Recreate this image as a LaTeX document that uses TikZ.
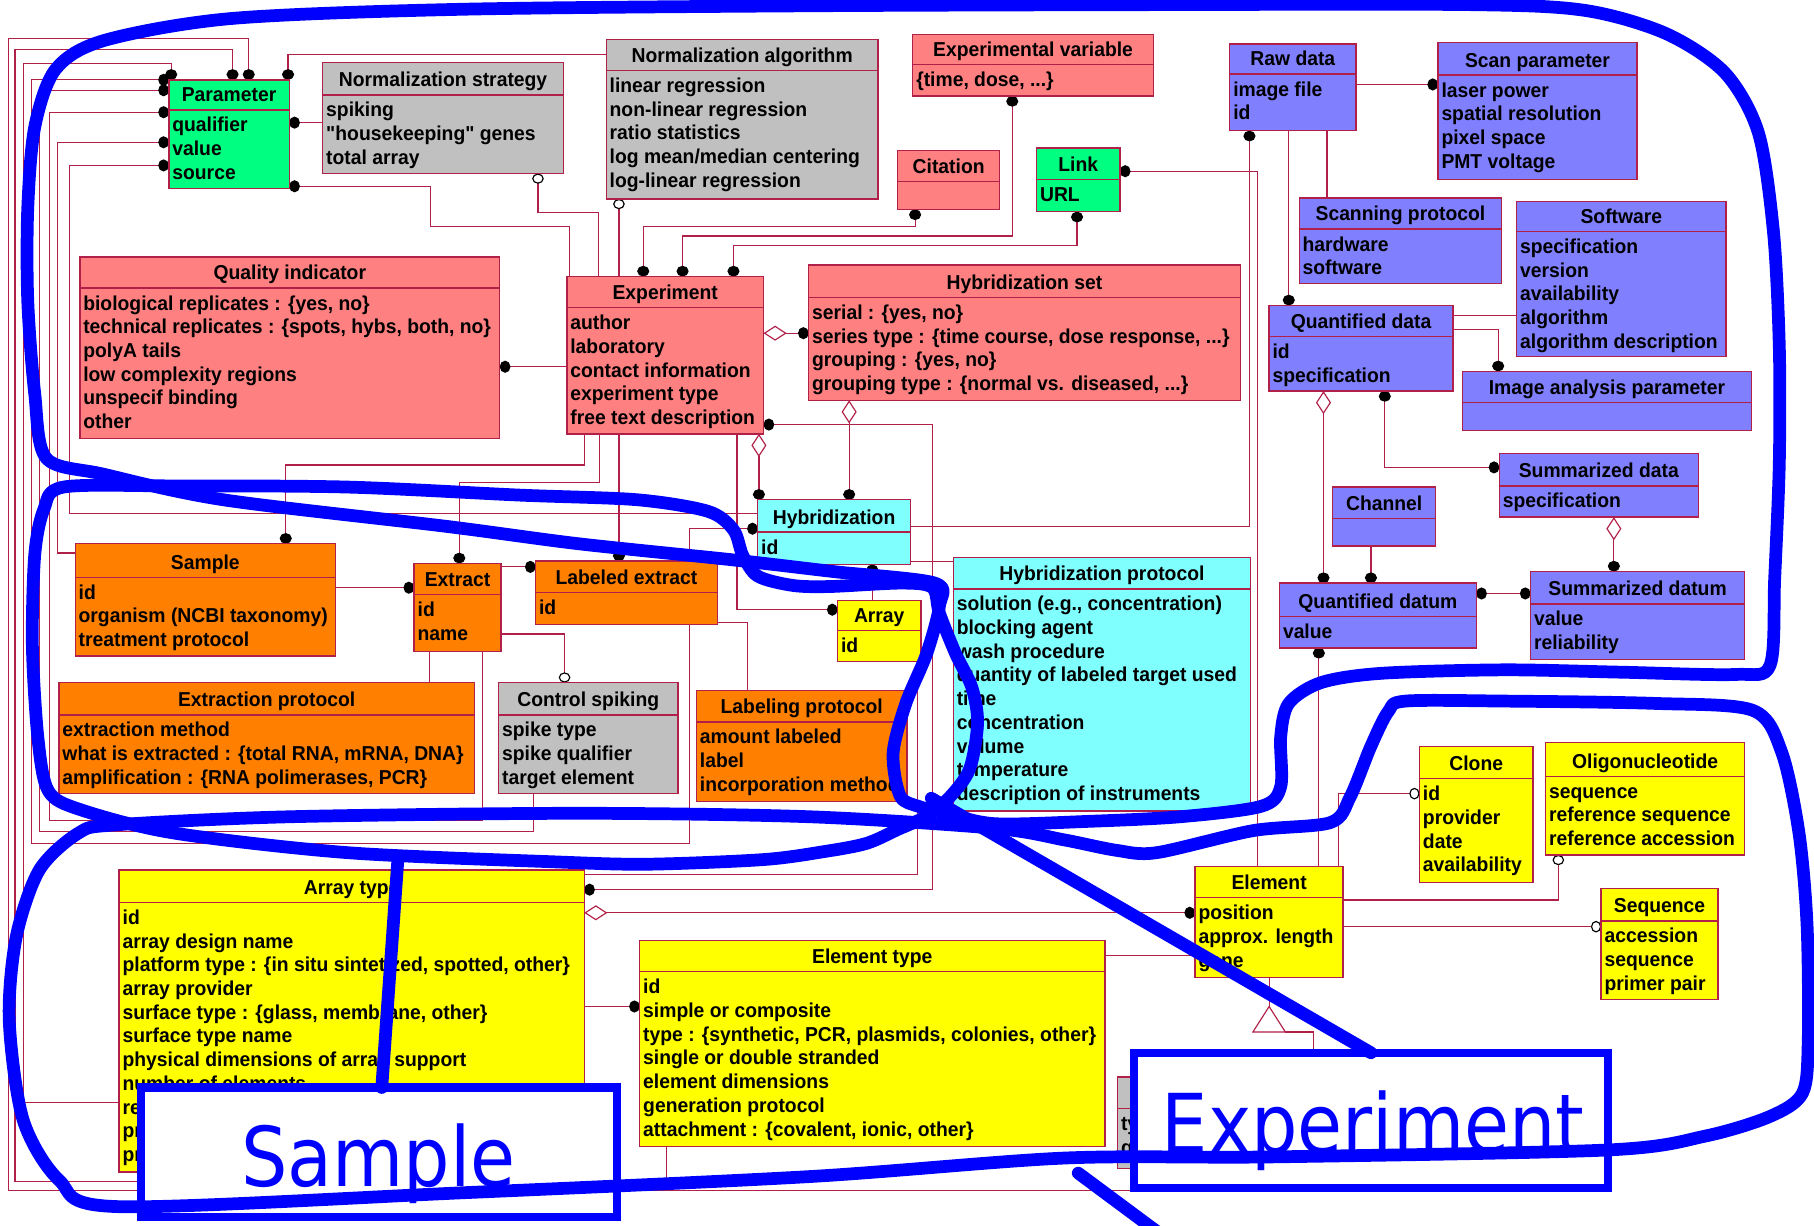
\documentclass[tikz,border=0pt]{standalone}
\usepackage{fontspec}
\usetikzlibrary{arrows.meta}
\newfontfamily\umlfont{Liberation Sans}[FakeStretch=0.96]
\newfontfamily\notefont{DejaVu Sans}[FakeStretch=0.886]
\newcommand\etcdots{...}

\definecolor{salmon}{RGB}{255,128,128}
\definecolor{umlgray}{RGB}{192,192,192}
\definecolor{umlgreen}{RGB}{0,255,128}
\definecolor{umlblue}{RGB}{128,128,255}
\definecolor{umlcyan}{RGB}{128,255,255}
\definecolor{umlorange}{RGB}{255,128,0}
\definecolor{umlyellow}{RGB}{255,255,0}
\definecolor{edge}{RGB}{176,32,72}
\definecolor{ink}{RGB}{0,0,255}

\pgfdeclarelayer{bg}
\pgfsetlayers{bg,main}

\tikzset{
  umlbox/.style={draw=edge, line width=0.6pt, inner sep=0pt, outer sep=0pt},
  umltext/.style={font=\umlfont\bfseries\fontsize{8.7}{10}\selectfont, inner sep=0pt, outer sep=0pt},
  conn/.style={draw=edge, line width=0.5pt},
  Dt/.tip={Circle[length=4.6pt,width=5.2pt,color=black,fill=black]},
  ODt/.tip={Circle[length=4.4pt,width=5pt,color=black,fill=white,line width=0.5pt]},
  ODia/.tip={Diamond[length=10pt,width=6.5pt,color=edge,fill=white,line width=0.5pt]},
  inkline/.style={draw=ink, line width=5.5pt, line cap=round, line join=round},
  notebox/.style={draw=ink, line width=3.5pt, fill=white, inner sep=0pt, outer sep=0pt},
  notetext/.style={text=ink, font=\notefont\fontsize{35.7}{40}\selectfont, inner sep=0pt},
}

% class box: name, x1, y1, x2, y2, header line, fill, title, rows
\newcommand\classbox[9]{%
  \node[umlbox, fill=#7, minimum width={(#4-#2)*0.5pt}, minimum height={(#5-#3)*0.5pt}, anchor=north west] (#1) at (#2,#3) {};
  \draw[edge, line width=0.6pt] (#2,#6) -- (#4,#6);
  \node[umltext, anchor=base] (#1-t) at ({(#2+#4)/2},#6-7) {#8};
  \foreach \r [count=\i] in {#9} {\node[umltext, anchor=base west] (#1-\i) at (#2+3,#6-1.5+20.5*\i) {\r};}
}

\begin{document}
\begin{tikzpicture}[x=0.5pt, y=-0.5pt]
\useasboundingbox (0,0) rectangle (1568,1059);
\begin{pgfonlayer}{bg}
  \fill[white] (0,0) rectangle (1568,1059);
\end{pgfonlayer}

% ---------- classes ----------
\classbox{param}{146}{69}{250}{163}{95}{umlgreen}{Parameter}{qualifier, value, source}
\classbox{nstrat}{279}{54}{487}{150}{82}{umlgray}{Normalization strategy}{spiking, "housekeeping" genes, total array}
\classbox{nalg}{524}{34}{759}{172}{61}{umlgray}{Normalization algorithm}{linear regression, non-linear regression, ratio statistics, log mean/median centering, log-linear regression}
\classbox{expvar}{789}{30}{997}{83}{56}{salmon}{Experimental variable}{{\{time, dose, \etcdots\}}}
\classbox{citation}{776}{130}{864}{181}{157}{salmon}{Citation}{}
\classbox{link}{896}{128}{968}{183}{155}{umlgreen}{Link}{URL}
\classbox{raw}{1063}{38}{1172}{113}{64}{umlblue}{Raw data}{image file, id}
\classbox{scan}{1243}{37}{1415}{155}{65}{umlblue}{Scan parameter}{laser power, spatial resolution, pixel space, PMT voltage}
\classbox{scanp}{1123}{171}{1298}{245}{198}{umlblue}{Scanning protocol}{hardware, software}
\classbox{soft}{1311}{174}{1492}{308}{200}{umlblue}{Software}{specification, version, availability, algorithm, algorithm description}
\classbox{qdata}{1097}{264}{1256}{338}{291}{umlblue}{Quantified data}{id, specification}
\classbox{iap}{1264}{321}{1514}{372}{348}{umlblue}{Image analysis parameter}{}
\classbox{qi}{69}{222}{432}{379}{249}{salmon}{Quality indicator}{{biological replicates : \{yes, no\}}, {technical replicates : \{spots, hybs, both, no\}}, polyA tails, low complexity regions, unspecif binding, other}
\classbox{exp}{490}{239}{660}{375}{266}{salmon}{Experiment}{author, laboratory, contact information, experiment type, free text description}
\classbox{hset}{699}{229}{1072}{346}{257}{salmon}{Hybridization set}{{serial : \{yes, no\}}, {series type : \{time course, dose response, \etcdots\}}, {grouping : \{yes, no\}}, {grouping type : \{normal vs. diseased, \etcdots\}}}
\classbox{hyb}{655}{432}{787}{488}{460}{umlcyan}{Hybridization}{id}
\classbox{hprot}{824}{482}{1081}{701}{509}{umlcyan}{Hybridization protocol}{{solution (e.g., concentration)}, blocking agent, wash procedure, quantity of labeled target used, time, concentration, volume, temperature, description of instruments}
\classbox{channel}{1152}{421}{1241}{472}{448}{umlblue}{Channel}{}
\classbox{sdata}{1296}{392}{1468}{447}{420}{umlblue}{Summarized data}{specification}
\classbox{qdatum}{1106}{504}{1276}{560}{533}{umlblue}{Quantified datum}{value}
\classbox{sdatum}{1323}{494}{1508}{570}{522}{umlblue}{Summarized datum}{value, reliability}
\classbox{sample}{65}{470}{290}{567}{499}{umlorange}{Sample}{id, organism (NCBI taxonomy), treatment protocol}
\classbox{extract}{358}{487}{433}{563}{514}{umlorange}{Extract}{id, name}
\classbox{lext}{463}{485}{620}{540}{512}{umlorange}{Labeled extract}{id}
\classbox{array}{724}{519}{796}{572}{545}{umlyellow}{Array}{id}
\classbox{eprot}{51}{590}{410}{686}{618}{umlorange}{Extraction protocol}{extraction method, {what is extracted : \{total RNA, mRNA, DNA\}}, {amplification : \{RNA polimerases, PCR\}}}
\classbox{cspike}{431}{590}{586}{686}{618}{umlgray}{Control spiking}{spike type, spike qualifier, target element}
\classbox{lprot}{602}{597}{784}{693}{624}{umlorange}{Labeling protocol}{amount labeled, label, incorporation method}
\classbox{clone}{1227}{645}{1325}{763}{673}{umlyellow}{Clone}{id, provider, date, availability}
\classbox{oligo}{1336}{642}{1508}{739}{671}{umlyellow}{Oligonucleotide}{sequence, reference sequence, reference accession}
\classbox{element}{1033}{749}{1161}{845}{776}{umlyellow}{Element}{position, approx. length, gene}
\classbox{seq}{1384}{768}{1485}{864}{796}{umlyellow}{Sequence}{accession, sequence, primer pair}
\classbox{atype}{103}{752}{505}{1013}{780}{umlyellow}{Array type}{id, array design name, {platform type : \{in situ sintetized, spotted, other\}}, array provider, {surface type : \{glass, membrane, other\}}, surface type name, physical dimensions of array support, number of elements, re, pr, pr}
\classbox{etype}{553}{813}{955}{991}{840}{umlyellow}{Element type}{id, simple or composite, {type : \{synthetic, PCR, plasmids, colonies, other\}}, single or double stranded, element dimensions, generation protocol, {attachment : \{covalent, ionic, other\}}}
\classbox{gbox}{966}{931}{1060}{1010}{958}{umlgray}{}{ty, q}

% ---------- associations ----------
\begin{pgfonlayer}{bg}
  % Parameter bundle on the left
  \draw[conn,Dt-] (param.north -| 215,0) |- (7,33) -- (7,1029) -| (gbox.south -| 1000,0);
  \draw[conn,Dt-] (param.north -| 201,0) |- (13,43) -- (13,1021) -| (etype.south -| 576,0);
  \draw[conn,Dt-] (param.north -| 148,0) |- (20,55) -- (20,953) -- (atype.west |- 0,953);
  \draw[conn,Dt-Dt] (param.west |- 0,69) -- (27,69) -- (27,729) -| (596,457) -- (hyb.west |- 0,457);
  \draw[conn,Dt-] (param.west |- 0,78) -- (34,78) -- (34,719) -| (cspike.south -| 461,0);
  \draw[conn,Dt-] (param.west |- 0,97) -- (43,97) -- (43,709) -| (extract.south -| 417,0);
  \draw[conn,Dt-] (param.west |- 0,123) -- (50,123) -- (50,478) -- (sample.west |- 0,478);
  \draw[conn,Dt-] (param.west |- 0,143) -- (60,143) -- (60,444) -- (hyb.west |- 0,444);
  \draw[conn,Dt-] (param.north -| 249,0) |- (nalg.west |- 0,47);
  \draw[conn,Dt-] (param.east |- 0,106) -- (nstrat.west |- 0,106);
  \draw[conn,Dt-] (param.east |- 0,161) -- (372,161) -- (372,196) -| (exp.north -| 492,0);
  % into Experiment from above
  \draw[conn,ODt-] (nstrat.south -| 465,0) |- (517,184) -- (exp.north -| 517,0);
  \draw[conn,ODt-] (nalg.south -| 535,0) -- (exp.north -| 535,0);
  \draw[conn,Dt-Dt] (citation.south -| 791,0) |- (556,196) -- (exp.north -| 556,0);
  \draw[conn,Dt-Dt] (expvar.south -| 875,0) |- (590,204) -- (exp.north -| 590,0);
  \draw[conn,Dt-Dt] (link.south -| 931,0) |- (634,212) -- (exp.north -| 634,0);
  \draw[conn,Dt-] (link.east |- 0,148) -| (element.north -| 1087,0);
  % data side
  \draw[conn,Dt-] (raw.south -| 1080,0) |- (hyb.east |- 0,455);
  \draw[conn,-Dt] (raw.east |- 0,73) -- (scan.west |- 0,73);
  \draw[conn,-Dt] (raw.south -| 1114,0) -- (qdata.north -| 1114,0);
  \draw[conn] (raw.south -| 1147,0) -- (scanp.north -| 1147,0);
  \draw[conn] (qdata.east |- 0,273) -- (soft.west |- 0,273);
  \draw[conn,-Dt] (qdata.east |- 0,285) -| (iap.north -| 1295,0);
  \draw[conn,ODia-Dt] (qdata.south -| 1144,0) -- (qdatum.north -| 1144,0);
  \draw[conn,Dt-Dt] (qdata.south -| 1197,0) |- (sdata.west |- 0,404);
  \draw[conn,-Dt] (channel.south -| 1185,0) -- (qdatum.north -| 1185,0);
  \draw[conn,Dt-Dt] (qdatum.east |- 0,513) -- (sdatum.west |- 0,513);
  \draw[conn,ODia-Dt] (sdata.south -| 1395,0) -- (sdatum.north -| 1395,0);
  \draw[conn,Dt-] (qdatum.south -| 1140,0) -- (element.north -| 1140,0);
  % experiment side
  \draw[conn,Dt-] (qi.east |- 0,317) -- (exp.west |- 0,317);
  \draw[conn,ODia-Dt] (exp.east |- 0,288) -- (hset.west |- 0,288);
  \draw[conn,Dt-Dt] (exp.east |- 0,367) -| (806,769) -- (atype.east |- 0,769);
  \draw[conn,-Dt] (exp.south -| 505,0) |- (247,402) -- (sample.north -| 247,0);
  \draw[conn,-Dt] (exp.south -| 518,0) |- (397,417) -- (extract.north -| 397,0);
  \draw[conn,-Dt] (exp.south -| 535,0) -- (lext.north -| 535,0);
  \draw[conn,-Dt] (exp.south -| 637,0) |- (array.west |- 0,527);
  \draw[conn,ODia-Dt] (exp.south -| 656,0) -- (hyb.north -| 656,0);
  \draw[conn,ODia-Dt] (hset.south -| 734,0) -- (hyb.north -| 734,0);
  \draw[conn] (hyb.east |- 0,485) -- (hprot.west |- 0,485);
  \draw[conn,Dt-] (hyb.south -| 754,0) -- (array.north -| 754,0);
  \draw[conn,-Dt] (sample.east |- 0,508) -- (extract.west |- 0,508);
  \draw[conn,-Dt] (extract.east |- 0,490) -- (lext.west |- 0,490);
  \draw[conn,-ODt] (extract.east |- 0,548) -| (cspike.north -| 488,0);
  \draw[conn] (extract.south -| 371,0) -- (eprot.north -| 371,0);
  \draw[conn] (lext.east |- 0,538) -| (lprot.north -| 646,0);
  % array / element side
  \draw[conn] (array.south -| 793,0) |- (atype.east |- 0,756);
  \draw[conn,ODia-Dt] (atype.east |- 0,789) -- (element.west |- 0,789);
  \draw[conn,-Dt] (atype.east |- 0,870) -- (etype.west |- 0,870);
  \draw[conn] (etype.east |- 0,826) -- (element.west |- 0,826);
  \draw[conn,-ODt] (element.north -| 1157,0) |- (clone.west |- 0,686);
  \draw[conn,-ODt] (element.east |- 0,778) -| (oligo.south -| 1347,0);
  \draw[conn,-ODt] (element.east |- 0,801) -- (seq.west |- 0,801);
  % generalization
  \coordinate (gentip) at (1097,870);
  \draw[conn] (element.south -| 1097,0) -- (gentip);
  \draw[conn] (1111,892) -| (gbox.north -| 1135,0);
\end{pgfonlayer}
\draw[edge, line width=0.5pt, fill=white] (gentip) -- (1111,892) -- (1083,892) -- cycle;

% ---------- hand-drawn grouping ----------
\node[notebox, minimum width=205.5pt, minimum height=56pt, anchor=north west] (samplelbl) at (122,940) {};
\node[notetext, anchor=base] (sampletxt) at (327,1026) {Sample};
\node[notebox, minimum width=205pt, minimum height=58.5pt, anchor=north west] (explbl) at (980,910) {};
\node[notetext, anchor=base] (exptxt) at (1187,997) {Experiment};

% upper group
\draw[inkline] plot[smooth cycle, tension=0.5] coordinates {
 (40,396) (30,340) (24,260) (24,180) (30,110) (48,60) (90,35) (200,16) (400,8) (700,5)
 (1000,4) (1270,4) (1370,9) (1440,29) (1491,63) (1520,115) (1533,201) (1538,300) (1538,400)
 (1534,500) (1530,575) (1500,583) (1400,581) (1300,579) (1194,582) (1142,590) (1114,608)
 (1107,637) (1107,680) (1090,697) (1020,706) (940,710) (860,712) (818,703) (794,697)
 (778,688) (772,651) (783,608) (801,565) (812,524) (808,504) (720,494) (634,484) (500,470)
 (386,455) (193,432) (90,410)};
% sample group
\draw[inkline] plot[smooth cycle, tension=0.5] coordinates {
 (55,421) (150,420) (300,421) (450,428) (551,432) (612,442) (634,458) (642,480) (655,498)
 (685,506) (717,507) (780,504) (806,508) (812,530) (826,565) (840,594) (845,625) (838,665)
 (820,690) (800,706) (776,717) (749,729) (713,736) (660,743) (560,747) (480,745) (300,737)
 (150,720) (70,700) (42,684) (33,640) (28,559) (30,480) (38,440)};
% array group
\draw[inkline] plot[smooth cycle, tension=0.5] coordinates {
 (68,720) (100,713) (250,706) (500,703) (700,706) (860,716) (920,726) (965,735) (1000,737)
 (1083,718) (1150,711) (1167,689) (1185,645) (1200,615) (1215,606) (1300,606) (1430,608)
 (1515,614) (1540,650) (1555,720) (1562,800) (1563,900) (1558,945) (1530,965) (1474,982)
 (1390,994) (1100,1000) (920,1001) (700,1017) (400,1031) (102,1043) (51,1020) (20,968)
 (8,882) (14,810) (34,752)};
% pointers from the labels
\coordinate (samplept) at (344,742);
\coordinate (exppt) at (805,690);
\coordinate (tailpt) at (1002,1066);
\draw[inkline] (samplelbl.north -| 330,0) -- (samplept);
\draw[inkline] (explbl.north -| 1185,0) -- (exppt);
\draw[inkline] (932,1014) -- (tailpt);
\end{tikzpicture}
\end{document}
